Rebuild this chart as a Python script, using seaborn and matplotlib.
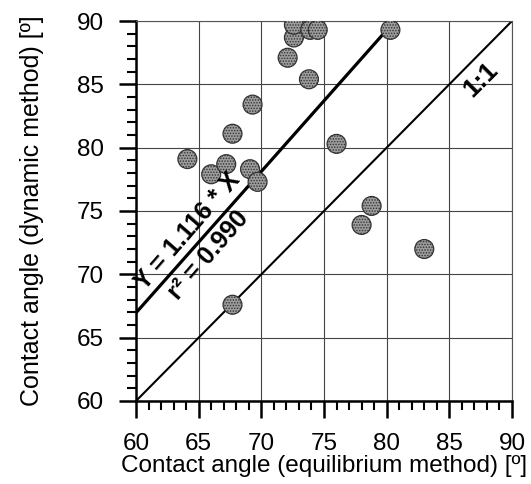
import numpy as np
import pandas as pd
import matplotlib
matplotlib.use("Agg")
import matplotlib.pyplot as plt
from matplotlib.ticker import MultipleLocator
import seaborn as sns

# contact angles [deg]
equilibrium = [64.1, 66.0, 67.2, 67.7, 69.3, 69.1, 69.7, 72.1, 72.6, 72.6,
               73.8, 73.9, 74.5, 76.0, 80.3, 78.8, 78.0, 83.0, 67.7]
dynamic = [79.1, 77.9, 78.7, 81.1, 83.4, 78.3, 77.3, 87.1, 88.7, 89.7,
           85.4, 89.3, 89.3, 80.3, 89.3, 75.4, 73.9, 72.0, 67.6]
fit_slope = 1.116
fit_r2 = 0.990
ticks = [60, 65, 70, 75, 80, 85, 90]

df = pd.DataFrame({"eq": equilibrium, "dyn": dynamic})

sns.set_theme(style="white", rc={"text.color": "black", "axes.labelcolor": "black",
                                 "xtick.color": "black", "ytick.color": "black",
                                 "hatch.linewidth": 0.7})
plt.rcParams["font.family"] = ["Liberation Sans", "DejaVu Sans"]

fig = plt.figure(figsize=(5.31, 4.84), dpi=100)
ax = fig.add_axes([0.2561, 0.1715, 0.7081, 0.7851])

ax.set_xlim(60, 90)
ax.set_ylim(60, 90)
ax.set_xticks(ticks)
ax.set_yticks(ticks)
ax.xaxis.set_minor_locator(MultipleLocator(1))
ax.yaxis.set_minor_locator(MultipleLocator(1))
ax.grid(True, which="major", color="#444444", linewidth=0.8)
ax.set_axisbelow(True)

# regression line through origin and 1:1 line
ax.axline((0, 0), slope=fit_slope, color="black", linewidth=2.3, zorder=2)
ax.axline((0, 0), slope=1.0, color="black", linewidth=1.5, zorder=2)

sns.scatterplot(data=df, x="eq", y="dyn", ax=ax, s=185, color="#9c9c9c",
                edgecolor="#333333", linewidth=0.9, hatch="......",
                zorder=3, legend=False)

ax.text(64.1, 73.4, f"Y = {fit_slope:.3f} * X", rotation=49, fontsize=18,
        fontweight="bold", ha="center", va="center", rotation_mode="anchor",
        zorder=4)
ax.text(65.8, 71.5, f"r² = {fit_r2:.3f}", rotation=49, fontsize=18,
        fontweight="bold", ha="center", va="center", rotation_mode="anchor",
        zorder=4)
ax.text(87.5, 85.4, "1:1", rotation=45, fontsize=19, fontweight="bold",
        ha="center", va="center", rotation_mode="anchor", zorder=4)

for side in ["left", "bottom"]:
    ax.spines[side].set_color("black")
    ax.spines[side].set_linewidth(1.8)
for side in ["top", "right"]:
    ax.spines[side].set_color("#555555")
    ax.spines[side].set_linewidth(0.8)

ax.tick_params(which="major", direction="out", length=12, width=1.8,
               labelsize=17.5, pad=11, top=False, right=False,
               left=True, bottom=True)
ax.tick_params(which="minor", direction="out", length=6.5, width=1.5,
               top=False, right=False, left=True, bottom=True)

ax.set_xlabel("Contact angle (equilibrium method) [º]", fontsize=17.5, labelpad=0)
ax.set_ylabel("Contact angle (dynamic method) [º]", fontsize=18, labelpad=24)

fig.savefig("out.png", dpi=100)
